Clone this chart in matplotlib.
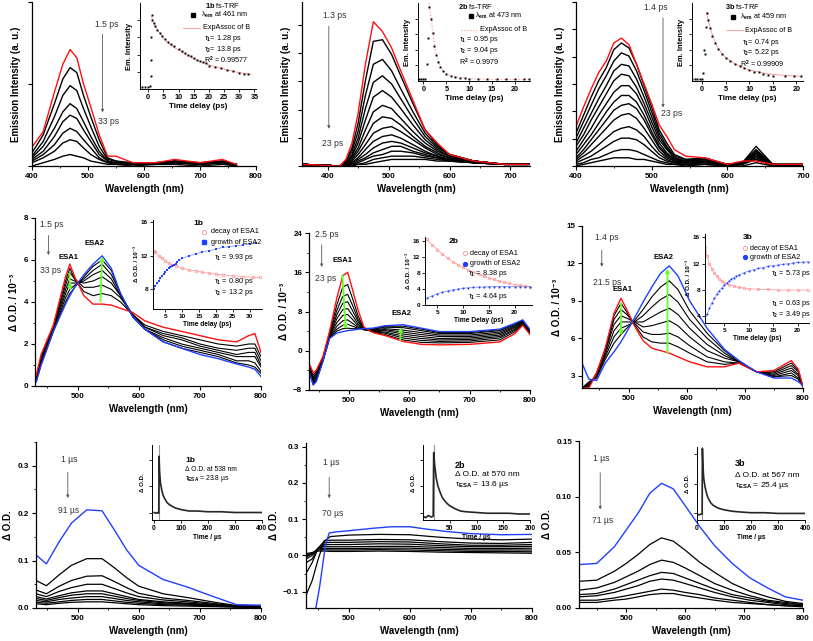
import numpy as np
import matplotlib
matplotlib.use("Agg")
import matplotlib.pyplot as plt
from matplotlib.ticker import MultipleLocator, FormatStrFormatter

plt.rcParams['font.family'] = ['Liberation Sans', 'DejaVu Sans']
plt.rcParams['font.weight'] = 'bold'
plt.rcParams['mathtext.fontset'] = 'custom'
plt.rcParams['mathtext.rm'] = 'Liberation Sans'
plt.rcParams['mathtext.it'] = 'Liberation Sans:italic'
plt.rcParams['mathtext.bf'] = 'Liberation Sans:bold'
plt.rcParams['axes.linewidth'] = 0.9

RED = '#ff1010'
BLUE = '#2040ff'
GREEN = '#66ff22'
PINK = '#ff9090'

# ---------------- top row: fs emission (a. u.) ----------------
wl_em_1b = [400, 420, 440, 455, 468, 480, 492, 505, 520, 535, 550, 580, 620, 655, 700, 740, 765]
em_1b_first = [0.115, 0.21, 0.45, 0.62, 0.71, 0.66, 0.50, 0.36, 0.19, 0.06, 0.06, 0.02, 0.02, 0.04, 0.02, 0.04, 0.01]
em_1b_rest = [
    [0.08, 0.19, 0.38, 0.53, 0.60, 0.57, 0.43, 0.30, 0.16, 0.05, 0.03, 0.02, 0.02, 0.03, 0.02, 0.03, 0.01],
    [0.06, 0.15, 0.30, 0.43, 0.49, 0.46, 0.35, 0.24, 0.12, 0.04, 0.03, 0.01, 0.02, 0.03, 0.01, 0.03, 0.01],
    [0.05, 0.12, 0.23, 0.33, 0.38, 0.35, 0.27, 0.18, 0.09, 0.03, 0.02, 0.02, 0.01, 0.03, 0.02, 0.02, 0.01],
    [0.04, 0.09, 0.18, 0.27, 0.31, 0.29, 0.22, 0.15, 0.07, 0.03, 0.02, 0.01, 0.02, 0.02, 0.01, 0.02, 0.01],
    [0.03, 0.07, 0.13, 0.20, 0.23, 0.21, 0.16, 0.11, 0.05, 0.02, 0.02, 0.01, 0.01, 0.02, 0.01, 0.02, 0.00],
    [0.02, 0.05, 0.09, 0.14, 0.16, 0.15, 0.11, 0.07, 0.04, 0.02, 0.01, 0.01, 0.01, 0.02, 0.01, 0.02, 0.00],
    [0.00, 0.02, 0.04, 0.06, 0.07, 0.06, 0.05, 0.03, 0.02, 0.01, 0.01, 0.00, 0.01, 0.01, 0.00, 0.01, 0.00],
]
trf_1b_t = [-2, -1, 0, 0.5, 0.8, 0.9, 1.0, 1.1, 1.4, 1.8, 2.3, 3, 3.8, 4.5, 5.5, 6.5, 7.5, 8.5, 10, 11, 12, 13,
            14, 15, 16, 17, 18, 19, 20, 22, 24, 26, 28, 30, 31.5, 33]
trf_1b_v = [0.02, 0.02, 0.02, 0.03, 0.15, 0.34, 0.60, 0.86, 0.80, 0.77, 0.73, 0.69, 0.65, 0.62, 0.58, 0.55, 0.52,
            0.50, 0.46, 0.44, 0.42, 0.40, 0.38, 0.36, 0.34, 0.33, 0.31, 0.30, 0.27, 0.26, 0.24, 0.22, 0.21, 0.19,
            0.18, 0.17]
fit_1b_t = [1.1, 2, 3, 5, 7, 10, 15, 20, 25, 30, 34]
fit_1b_v = [0.84, 0.75, 0.69, 0.59, 0.52, 0.45, 0.35, 0.28, 0.23, 0.19, 0.17]

wl_em_2b = [358, 420, 430, 440, 450, 462, 475, 490, 505, 520, 540, 560, 580, 600, 640, 690, 730]
em_2b_first = [0.01, 0.0, 0.04, 0.14, 0.32, 0.62, 0.88, 0.82, 0.72, 0.58, 0.40, 0.22, 0.14, 0.07, 0.03, 0.01, 0.01]
em_2b_rest = [
    [0.01, 0.0, 0.03, 0.11, 0.26, 0.52, 0.76, 0.77, 0.68, 0.55, 0.38, 0.22, 0.13, 0.07, 0.03, 0.01, 0.01],
    [0.01, 0.0, 0.03, 0.09, 0.21, 0.43, 0.62, 0.65, 0.58, 0.47, 0.33, 0.20, 0.12, 0.07, 0.03, 0.01, 0.01],
    [0.01, 0.0, 0.02, 0.07, 0.17, 0.35, 0.51, 0.55, 0.50, 0.41, 0.29, 0.18, 0.11, 0.07, 0.03, 0.01, 0.01],
    [0.01, 0.0, 0.02, 0.06, 0.14, 0.28, 0.42, 0.46, 0.42, 0.35, 0.25, 0.16, 0.10, 0.06, 0.03, 0.01, 0.01],
    [0.01, 0.0, 0.02, 0.05, 0.11, 0.22, 0.33, 0.37, 0.35, 0.29, 0.21, 0.14, 0.09, 0.06, 0.03, 0.01, 0.01],
    [0.01, 0.0, 0.01, 0.04, 0.09, 0.17, 0.26, 0.30, 0.29, 0.25, 0.18, 0.12, 0.08, 0.05, 0.03, 0.01, 0.01],
    [0.01, 0.0, 0.01, 0.03, 0.07, 0.13, 0.20, 0.23, 0.24, 0.21, 0.16, 0.11, 0.07, 0.05, 0.02, 0.01, 0.01],
    [0.01, 0.0, 0.01, 0.02, 0.05, 0.10, 0.15, 0.18, 0.19, 0.17, 0.13, 0.09, 0.06, 0.04, 0.02, 0.01, 0.01],
    [0.01, 0.0, 0.01, 0.02, 0.04, 0.07, 0.11, 0.14, 0.15, 0.14, 0.11, 0.08, 0.06, 0.04, 0.02, 0.01, 0.01],
    [0.01, 0.0, 0.01, 0.01, 0.03, 0.05, 0.08, 0.10, 0.12, 0.12, 0.09, 0.07, 0.05, 0.04, 0.02, 0.01, 0.01],
    [0.01, 0.0, 0.00, 0.01, 0.02, 0.04, 0.06, 0.07, 0.09, 0.09, 0.08, 0.06, 0.05, 0.03, 0.02, 0.01, 0.01],
    [0.01, 0.0, 0.00, 0.01, 0.01, 0.02, 0.04, 0.05, 0.06, 0.06, 0.06, 0.05, 0.04, 0.03, 0.02, 0.01, 0.01],
    [0.01, 0.0, 0.00, 0.00, 0.01, 0.01, 0.02, 0.03, 0.04, 0.04, 0.04, 0.04, 0.03, 0.03, 0.02, 0.01, 0.01],
]
trf_2b_t = [-1, -0.5, 0, 0.3, 0.7, 1.0, 1.3, 1.7, 2.0, 2.4, 2.8, 3.2, 3.7, 4.2, 5, 6, 7, 8, 9, 10, 12, 14, 16,
            18, 20, 22, 23]
trf_2b_v = [0.02, 0.02, 0.02, 0.03, 0.22, 0.55, 0.95, 0.80, 0.62, 0.45, 0.33, 0.25, 0.18, 0.13, 0.09, 0.07, 0.05,
            0.04, 0.035, 0.03, 0.03, 0.025, 0.02, 0.02, 0.02, 0.02, 0.03]
fit_2b_t = [1.2, 1.7, 2.0, 2.4, 3, 4, 5, 7, 10, 15, 23]
fit_2b_v = [1.0, 0.80, 0.63, 0.46, 0.30, 0.15, 0.09, 0.05, 0.03, 0.02, 0.02]

wl_em_3b = [400, 410, 420, 430, 440, 450, 460, 470, 480, 490, 500, 510, 520, 530, 545, 570, 600, 620, 638, 660, 700]
em_3b_first = [0.24, 0.36, 0.47, 0.57, 0.64, 0.75, 0.78, 0.74, 0.62, 0.50, 0.38, 0.25, 0.18, 0.10, 0.06, 0.05,
               0.01, 0.03, 0.03, 0.01, 0.01]
em_3b_rest = [
    [0.20, 0.31, 0.42, 0.52, 0.60, 0.71, 0.75, 0.72, 0.62, 0.49, 0.36, 0.22, 0.14, 0.07, 0.04, 0.05, 0.01, 0.02, 0.04, 0.01, 0.01],
    [0.17, 0.27, 0.37, 0.47, 0.55, 0.64, 0.69, 0.67, 0.58, 0.46, 0.33, 0.20, 0.12, 0.06, 0.04, 0.04, 0.01, 0.02, 0.05, 0.01, 0.01],
    [0.14, 0.23, 0.32, 0.41, 0.49, 0.58, 0.62, 0.61, 0.53, 0.42, 0.30, 0.18, 0.11, 0.05, 0.03, 0.04, 0.01, 0.02, 0.06, 0.01, 0.01],
    [0.12, 0.19, 0.28, 0.36, 0.44, 0.52, 0.56, 0.55, 0.48, 0.38, 0.27, 0.16, 0.10, 0.05, 0.03, 0.04, 0.01, 0.02, 0.07, 0.01, 0.01],
    [0.09, 0.16, 0.23, 0.31, 0.38, 0.45, 0.49, 0.49, 0.44, 0.35, 0.24, 0.14, 0.08, 0.04, 0.03, 0.04, 0.01, 0.02, 0.08, 0.01, 0.00],
    [0.07, 0.13, 0.19, 0.26, 0.33, 0.39, 0.43, 0.43, 0.39, 0.31, 0.21, 0.12, 0.07, 0.04, 0.02, 0.03, 0.01, 0.02, 0.09, 0.01, 0.00],
    [0.05, 0.10, 0.16, 0.22, 0.28, 0.34, 0.37, 0.38, 0.35, 0.28, 0.19, 0.11, 0.06, 0.03, 0.02, 0.03, 0.01, 0.02, 0.10, 0.01, 0.00],
    [0.04, 0.08, 0.13, 0.18, 0.23, 0.28, 0.31, 0.32, 0.29, 0.23, 0.16, 0.09, 0.05, 0.03, 0.02, 0.03, 0.01, 0.02, 0.12, 0.01, 0.00],
    [0.03, 0.06, 0.09, 0.13, 0.17, 0.21, 0.23, 0.24, 0.22, 0.18, 0.12, 0.07, 0.04, 0.02, 0.02, 0.02, 0.01, 0.01, 0.08, 0.01, 0.00],
    [0.02, 0.04, 0.06, 0.09, 0.12, 0.15, 0.17, 0.17, 0.16, 0.13, 0.09, 0.05, 0.03, 0.02, 0.01, 0.02, 0.00, 0.01, 0.06, 0.01, 0.00],
    [0.01, 0.02, 0.04, 0.05, 0.07, 0.09, 0.10, 0.10, 0.09, 0.07, 0.05, 0.03, 0.02, 0.01, 0.01, 0.01, 0.00, 0.01, 0.04, 0.00, 0.00],
    [0.00, 0.01, 0.02, 0.03, 0.04, 0.05, 0.05, 0.05, 0.04, 0.04, 0.03, 0.02, 0.01, 0.01, 0.00, 0.01, 0.00, 0.00, 0.02, 0.00, 0.00],
]
trf_3b_t = [-2, -1.5, -1, -0.5, 0, 0.3, 0.5, 0.6, 0.8, 1.0, 1.3, 1.7, 2.2, 2.8, 3.5, 4.2, 5, 6, 7, 8, 9, 10, 11,
            12, 13, 14, 15, 17.5, 19.5, 21]
trf_3b_v = [0.02, 0.02, 0.02, 0.02, 0.02, 0.10, 0.40, 0.35, 0.69, 0.87, 0.78, 0.68, 0.58, 0.49, 0.41, 0.35, 0.30,
            0.26, 0.22, 0.19, 0.17, 0.14, 0.12, 0.11, 0.09, 0.08, 0.07, 0.06, 0.06, 0.06]
fit_3b_t = [1.0, 1.5, 2, 3, 4, 5, 7, 10, 14, 18, 21]
fit_3b_v = [0.88, 0.74, 0.63, 0.47, 0.37, 0.30, 0.22, 0.14, 0.09, 0.07, 0.06]

# ---------------- middle row: fs transient absorption (x 10^-3) ----------------
wl_ta_1b = [432, 440, 460, 480, 487, 495, 510, 525, 540, 555, 570, 590, 610, 640, 670, 700, 730, 760, 780, 790, 800]
ta_1b_first = [0.5, 1.5, 2.9, 5.2, 5.8, 5.2, 4.3, 3.9, 3.9, 3.85, 3.7, 3.5, 3.1, 2.8, 2.6, 2.4, 2.2, 2.1, 2.4, 2.5, 1.6]
ta_1b_last = [0.2, 1.0, 2.6, 3.9, 4.3, 4.7, 5.3, 5.8, 6.2, 5.6, 4.4, 3.3, 2.7, 2.1, 1.8, 1.5, 1.3, 1.05, 0.9, 0.8, 0.45]
ta_1b_mid = [
    [0.4, 1.4, 2.8, 5.0, 5.6, 5.1, 4.5, 4.3, 4.4, 4.3, 4.0, 3.4, 2.9, 2.6, 2.4, 2.2, 2.0, 1.9, 2.0, 2.0, 1.4],
    [0.4, 1.3, 2.8, 4.8, 5.4, 5.1, 4.7, 4.7, 4.8, 4.6, 4.2, 3.4, 2.8, 2.5, 2.3, 2.0, 1.8, 1.7, 1.8, 1.8, 1.2],
    [0.3, 1.2, 2.7, 4.6, 5.1, 5.0, 4.9, 5.0, 5.2, 4.9, 4.3, 3.4, 2.8, 2.4, 2.2, 1.9, 1.7, 1.5, 1.6, 1.6, 1.0],
    [0.3, 1.2, 2.7, 4.4, 4.9, 4.9, 5.0, 5.3, 5.5, 5.1, 4.3, 3.3, 2.7, 2.3, 2.0, 1.8, 1.6, 1.4, 1.4, 1.4, 0.9],
    [0.3, 1.1, 2.6, 4.2, 4.6, 4.8, 5.1, 5.5, 5.8, 5.3, 4.4, 3.3, 2.7, 2.2, 1.9, 1.7, 1.5, 1.2, 1.2, 1.1, 0.7],
    [0.2, 1.0, 2.6, 4.0, 4.4, 4.7, 5.2, 5.7, 6.0, 5.5, 4.4, 3.3, 2.7, 2.1, 1.8, 1.6, 1.4, 1.1, 1.0, 0.9, 0.6],
]
kin_1b_t = [1.5, 2, 3, 4, 5, 6, 7, 8, 10, 12, 14, 16, 18, 20, 22, 25, 28, 31, 33]
kin_1b_esa1 = [12.6, 12.4, 12.0, 11.7, 11.4, 11.1, 10.9, 10.8, 10.5, 10.3, 10.2, 10.0, 9.9, 9.8, 9.7, 9.6, 9.5,
               9.4, 9.4]
kin_1b_t2 = [1.5, 2, 2.5, 3, 3.5, 4, 4.5, 5, 5.5, 6, 6.5, 7, 7.5, 8, 8.5, 9, 10, 12, 14, 16, 18, 20, 22, 24, 26,
             28, 30, 32]
kin_1b_esa2 = [8.0, 8.4, 8.7, 9.0, 9.3, 9.6, 9.8, 10.1, 10.3, 10.5, 10.6, 10.8, 10.9, 11.0, 11.2, 11.5, 11.7, 12.0,
               12.2, 12.5, 12.6, 12.8, 13.0, 13.1, 13.2, 13.3, 13.4, 13.5]

wl_ta_2b = [434, 441, 446, 457, 468, 480, 490, 498, 506, 515, 525, 540, 560, 590, 620, 650, 700, 750, 775, 788, 800]
ta_2b_first = [-2.5, -4.5, -4.0, -1.2, 3.9, 10.7, 15.3, 16.0, 12.5, 8.4, 4.8, 3.7, 3.1, 1.9, 1.3, 1.2, 1.3, 1.8,
               3.5, 5.2, 3.3]
ta_2b_last = [-4.2, -7.0, -6.3, -2.2, 2.5, 3.6, 3.9, 4.1, 4.2, 4.4, 4.5, 4.6, 5.1, 5.3, 4.6, 3.9, 3.9, 4.4, 5.6,
              6.3, 4.3]
ta_2b_mid = [
    [-2.8, -5.0, -4.3, -1.4, 3.6, 9.3, 13.0, 13.5, 10.7, 7.2, 4.5, 3.8, 3.3, 2.2, 1.7, 1.6, 1.7, 2.2, 3.9, 5.4, 3.5],
    [-3.0, -5.4, -4.6, -1.6, 3.4, 8.2, 11.1, 11.5, 9.3, 6.5, 4.4, 3.9, 3.6, 2.6, 2.1, 1.9, 2.0, 2.6, 4.2, 5.5, 3.7],
    [-3.2, -5.7, -4.9, -1.7, 3.2, 7.3, 9.7, 10.0, 8.2, 6.0, 4.3, 4.0, 3.8, 3.0, 2.5, 2.2, 2.3, 2.9, 4.4, 5.6, 3.8],
    [-3.4, -6.0, -5.2, -1.8, 3.0, 6.5, 8.4, 8.6, 7.2, 5.5, 4.3, 4.1, 4.1, 3.4, 2.9, 2.5, 2.6, 3.2, 4.7, 5.8, 3.9],
    [-3.6, -6.3, -5.5, -1.9, 2.9, 5.7, 7.2, 7.4, 6.4, 5.1, 4.3, 4.2, 4.3, 3.8, 3.3, 2.9, 2.9, 3.5, 4.9, 5.9, 4.0],
    [-3.8, -6.5, -5.8, -2.0, 2.7, 5.0, 6.1, 6.3, 5.6, 4.8, 4.3, 4.3, 4.5, 4.2, 3.7, 3.2, 3.2, 3.8, 5.1, 6.0, 4.1],
    [-4.0, -6.8, -6.0, -2.1, 2.6, 4.4, 5.2, 5.4, 5.0, 4.6, 4.4, 4.4, 4.8, 4.7, 4.1, 3.5, 3.5, 4.1, 5.3, 6.1, 4.2],
    [-4.1, -6.9, -6.2, -2.1, 2.5, 4.0, 4.5, 4.6, 4.5, 4.5, 4.5, 4.5, 5.0, 5.0, 4.4, 3.7, 3.7, 4.3, 5.5, 6.2, 4.2],
]
kin_2b_t = [3, 4, 5, 6, 7, 8, 9, 10, 11, 12, 13, 14, 15, 16, 17, 18, 19, 20, 21, 22, 23]
kin_2b_esa1 = [16.4, 15.0, 13.8, 12.7, 11.7, 10.8, 10.1, 9.4, 8.8, 8.2, 7.7, 7.2, 6.8, 6.4, 6.0, 5.7, 5.4, 5.1,
               4.9, 4.7, 4.6]
kin_2b_esa2 = [1.8, 2.3, 2.8, 3.2, 3.5, 3.8, 4.0, 4.2, 4.3, 4.4, 4.5, 4.5, 4.6, 4.6, 4.6, 4.6, 4.6, 4.6, 4.6,
               4.6, 4.6]

wl_ta_3b = [420, 432, 445, 460, 475, 487, 497, 510, 525, 540, 555, 570, 585, 605, 635, 665, 690, 720, 750, 780, 792, 800]
ta_3b_first = [2.0, 2.0, 3.2, 5.2, 8.0, 9.2, 8.3, 7.0, 5.8, 5.2, 5.0, 4.8, 4.5, 4.1, 3.7, 3.7, 4.0, 3.3, 3.4, 4.2,
               3.5, 2.1]
ta_3b_last = [4.0, 2.7, 2.6, 4.0, 4.9, 5.7, 6.5, 7.6, 8.9, 10.1, 11.2, 11.8, 11.0, 9.0, 6.8, 5.1, 4.2, 3.3, 2.8,
              2.8, 2.5, 2.2]
ta_3b_mid = [
    [2.0, 2.1, 3.2, 5.1, 7.8, 8.8, 8.1, 7.1, 6.1, 5.7, 5.6, 5.6, 5.3, 4.8, 4.1, 3.9, 4.0, 3.3, 3.3, 4.0, 3.4, 2.1],
    [2.0, 2.2, 3.2, 5.0, 7.5, 8.3, 7.9, 7.2, 6.5, 6.3, 6.3, 6.4, 6.1, 5.4, 4.5, 4.1, 4.0, 3.3, 3.2, 3.8, 3.3, 2.1],
    [2.0, 2.2, 3.1, 4.9, 7.1, 7.8, 7.6, 7.3, 6.9, 7.0, 7.2, 7.4, 7.0, 6.1, 5.0, 4.4, 4.1, 3.3, 3.1, 3.6, 3.1, 2.1],
    [2.0, 2.3, 3.0, 4.7, 6.6, 7.3, 7.3, 7.3, 7.3, 7.7, 8.1, 8.4, 7.9, 6.8, 5.5, 4.6, 4.1, 3.3, 3.0, 3.4, 3.0, 2.1],
    [2.0, 2.4, 2.9, 4.5, 6.1, 6.8, 7.0, 7.3, 7.8, 8.5, 9.1, 9.5, 8.9, 7.5, 6.0, 4.8, 4.1, 3.3, 2.9, 3.2, 2.8, 2.1],
    [2.0, 2.5, 2.8, 4.3, 5.6, 6.3, 6.8, 7.4, 8.3, 9.3, 10.1, 10.6, 9.9, 8.2, 6.4, 5.0, 4.1, 3.3, 2.9, 3.0, 2.7, 2.1],
]
kin_3b_t1 = [1.2, 1.5, 2, 2.5, 3, 3.5, 4, 4.5, 5, 6, 7, 8, 9, 10, 12, 14, 16, 18, 20, 22]
kin_3b_esa1 = [14.5, 13.2, 12.0, 11.2, 10.6, 10.1, 9.7, 9.4, 9.1, 8.8, 8.6, 8.4, 8.3, 8.2, 8.1, 8.1, 8.0, 8.0,
               8.0, 8.0]
kin_3b_t2 = [1.2, 1.6, 2, 2.5, 3, 3.5, 4, 4.5, 5, 5.5, 6, 6.5, 7, 7.5, 8, 9, 10, 11, 12, 13, 14, 15, 16, 17, 18,
             19, 20, 21, 22]
kin_3b_esa2 = [4.0, 4.4, 5.2, 6.0, 6.8, 7.4, 7.9, 8.3, 8.7, 9.0, 9.4, 9.7, 9.9, 10.1, 10.3, 10.6, 10.9, 11.1,
               11.3, 11.4, 11.6, 11.7, 11.8, 11.9, 12.0, 12.1, 12.2, 12.2, 12.3]

# ---------------- bottom row: ns transient absorption ----------------
wl_ns_1b = [432, 449, 470, 490, 515, 540, 560, 580, 600, 640, 680, 720, 760, 800]
ns_1b_first = [0.112, 0.093, 0.14, 0.179, 0.207, 0.205, 0.165, 0.123, 0.09, 0.06, 0.044, 0.025, 0.007, 0.006]
ns_1b_rest = [
    [0.058, 0.047, 0.070, 0.090, 0.104, 0.104, 0.085, 0.064, 0.046, 0.030, 0.022, 0.013, 0.005, 0.004],
    [0.038, 0.030, 0.046, 0.058, 0.067, 0.068, 0.056, 0.043, 0.031, 0.021, 0.016, 0.010, 0.004, 0.004],
    [0.030, 0.024, 0.035, 0.043, 0.050, 0.050, 0.041, 0.032, 0.024, 0.017, 0.013, 0.008, 0.004, 0.003],
    [0.024, 0.019, 0.026, 0.032, 0.036, 0.036, 0.030, 0.024, 0.018, 0.013, 0.010, 0.007, 0.003, 0.003],
    [0.020, 0.016, 0.022, 0.027, 0.030, 0.030, 0.025, 0.020, 0.016, 0.011, 0.009, 0.006, 0.003, 0.003],
    [0.016, 0.013, 0.018, 0.021, 0.024, 0.024, 0.020, 0.016, 0.013, 0.009, 0.008, 0.005, 0.003, 0.002],
    [0.012, 0.010, 0.013, 0.016, 0.018, 0.018, 0.015, 0.012, 0.010, 0.007, 0.006, 0.004, 0.002, 0.002],
    [0.009, 0.007, 0.010, 0.012, 0.013, 0.013, 0.011, 0.009, 0.007, 0.005, 0.004, 0.003, 0.002, 0.001],
]
dec_1b_t = [2, 8, 14, 19, 20, 22, 25, 30, 35, 40, 50, 60, 80, 100, 130, 160, 200, 250, 300, 350, 400]
dec_1b_v = [0.10, 0.09, 0.10, 0.09, 0.85, 0.65, 0.50, 0.40, 0.33, 0.29, 0.23, 0.20, 0.16, 0.14, 0.12, 0.12, 0.11,
            0.11, 0.10, 0.10, 0.10]

wl_ns_2b_first = [446, 452, 457, 462, 468, 480, 500, 540, 570, 600, 630, 660, 700, 750, 800]
ns_2b_first = [-0.145, -0.09, -0.03, 0.03, 0.062, 0.065, 0.068, 0.075, 0.079, 0.079, 0.072, 0.066, 0.060, 0.057,
               0.058]
wl_ns_2b = [430, 440, 450, 460, 470, 500, 550, 600, 650, 700, 750, 800]
ns_2b_rest = [
    [-0.11, -0.07, -0.01, 0.040, 0.052, 0.056, 0.058, 0.057, 0.050, 0.045, 0.043, 0.045],
    [-0.05, -0.02, 0.02, 0.040, 0.042, 0.042, 0.044, 0.043, 0.038, 0.034, 0.033, 0.036],
    [-0.02, -0.01, 0.02, 0.035, 0.036, 0.036, 0.038, 0.037, 0.032, 0.028, 0.028, 0.030],
    [-0.01, 0.00, 0.02, 0.030, 0.030, 0.030, 0.032, 0.031, 0.027, 0.024, 0.024, 0.025],
    [0.00, 0.005, 0.02, 0.025, 0.024, 0.024, 0.025, 0.025, 0.022, 0.019, 0.019, 0.020],
    [-0.005, 0.005, 0.018, 0.020, 0.019, 0.019, 0.020, 0.020, 0.017, 0.015, 0.015, 0.015],
    [0.00, 0.005, 0.015, 0.016, 0.015, 0.015, 0.016, 0.015, 0.013, 0.011, 0.011, 0.010],
    [0.005, 0.008, 0.012, 0.012, 0.011, 0.011, 0.012, 0.011, 0.009, 0.008, 0.007, 0.006],
]
dec_2b_t = [1, 5, 10, 15, 19, 20, 22, 25, 28, 32, 36, 40, 45, 50, 60, 70, 80, 100, 120, 140, 160, 180, 200]
dec_2b_v = [0.05, 0.03, 0.06, 0.04, 0.05, 0.90, 0.72, 0.55, 0.45, 0.37, 0.30, 0.26, 0.22, 0.19, 0.15, 0.12, 0.11,
            0.10, 0.09, 0.09, 0.09, 0.08, 0.08]

wl_ns_3b = [420, 450, 480, 500, 520, 540, 560, 580, 600, 625, 650, 680, 710, 740, 770, 800]
ns_3b_first = [0.039, 0.040, 0.055, 0.070, 0.085, 0.103, 0.112, 0.107, 0.092, 0.073, 0.056, 0.040, 0.027, 0.018,
               0.010, 0.007]
ns_3b_rest = [
    [0.024, 0.025, 0.033, 0.040, 0.048, 0.057, 0.063, 0.060, 0.052, 0.041, 0.032, 0.022, 0.015, 0.010, 0.006, 0.004],
    [0.016, 0.018, 0.023, 0.028, 0.033, 0.039, 0.043, 0.041, 0.036, 0.029, 0.022, 0.016, 0.011, 0.007, 0.005, 0.003],
    [0.012, 0.013, 0.017, 0.021, 0.025, 0.029, 0.032, 0.031, 0.027, 0.022, 0.017, 0.012, 0.009, 0.006, 0.004, 0.003],
    [0.010, 0.011, 0.014, 0.017, 0.020, 0.024, 0.026, 0.025, 0.022, 0.018, 0.014, 0.010, 0.007, 0.005, 0.003, 0.002],
    [0.007, 0.007, 0.009, 0.011, 0.013, 0.015, 0.017, 0.016, 0.014, 0.012, 0.009, 0.007, 0.005, 0.003, 0.002, 0.002],
    [0.005, 0.005, 0.007, 0.008, 0.010, 0.012, 0.013, 0.013, 0.011, 0.009, 0.007, 0.005, 0.004, 0.003, 0.002, 0.001],
]
dec_3b_t = [2, 8, 14, 19, 20, 22, 25, 30, 35, 40, 50, 60, 80, 100, 130, 160, 200, 250, 300, 350, 400]
dec_3b_v = [0.08, 0.07, 0.08, 0.08, 0.98, 0.75, 0.57, 0.45, 0.37, 0.31, 0.24, 0.20, 0.16, 0.14, 0.12, 0.11, 0.10,
            0.10, 0.09, 0.09, 0.09]

# ---------------- figure ----------------
W, H = 813, 641
fig = plt.figure(figsize=(W / 100, H / 100), dpi=100)


def add_ax(l, t, r, b):
    ax = fig.add_axes([l / W, 1 - b / H, (r - l) / W, (b - t) / H])
    ax.spines['top'].set_visible(False)
    ax.spines['right'].set_visible(False)
    ax.patch.set_alpha(0)
    return ax


def bold_ticks(ax):
    for lbl in ax.get_xticklabels() + ax.get_yticklabels():
        lbl.set_fontweight('bold')


def style_main(ax, xlim, ylim, ylabel, yticks, show_ylabels=True):
    ax.set_xlim(*xlim)
    ax.set_ylim(*ylim)
    ax.xaxis.set_major_locator(MultipleLocator(100))
    ax.xaxis.set_minor_locator(MultipleLocator(50))
    ax.set_yticks(yticks)
    if not show_ylabels:
        ax.set_yticklabels([])
    ax.tick_params(which='major', length=3, width=0.8, labelsize=5.8, pad=2)
    ax.tick_params(which='minor', length=1.5, width=0.6)
    ax.set_xlabel('Wavelength (nm)', fontsize=7, fontweight='bold', labelpad=3)
    ax.set_ylabel(ylabel, fontsize=7, fontweight='bold', labelpad=3)
    bold_ticks(ax)


def style_inset(ax, xlim, ylim, xticks, yticks, xlabel, ylabel, show_ylabels=True,
                tsize=4.8, lsize=5.2):
    ax.set_xlim(*xlim)
    ax.set_ylim(*ylim)
    ax.set_xticks(xticks)
    ax.set_yticks(yticks)
    if not show_ylabels:
        ax.set_yticklabels([])
    for s in ('left', 'bottom'):
        ax.spines[s].set_linewidth(0.7)
    ax.tick_params(length=2, width=0.6, labelsize=tsize, pad=1.5)
    ax.set_xlabel(xlabel, fontsize=lsize, fontweight='bold', labelpad=1.5)
    ax.set_ylabel(ylabel, fontsize=lsize - 0.4, fontweight='bold', labelpad=1.5)
    bold_ticks(ax)


def time_arrow(ax, x, y0, y1, top, bottom, tx, ty_top, tx2, ty_bot, size=6.2):
    ax.annotate('', xy=(x, y1), xytext=(x, y0),
                arrowprops=dict(arrowstyle='-|>', color='0.35', lw=0.6, mutation_scale=4))
    ax.text(tx, ty_top, top, fontsize=size, fontweight='normal', color='0.2', ha='center', va='center')
    ax.text(tx2, ty_bot, bottom, fontsize=size, fontweight='normal', color='0.2', ha='center', va='center')


def esa_arrow(ax, x0, y0, x1, y1):
    ax.annotate('', xy=(x1, y1), xytext=(x0, y0),
                arrowprops=dict(arrowstyle='-|>', color=GREEN, lw=1.3, mutation_scale=5))


def note(ax, x, y, s, size=5.2, weight='normal'):
    ax.text(x, y, s, transform=ax.transAxes, fontsize=size, fontweight=weight, ha='left', va='center')


# ---- panel a: 1b emission ----
ax = add_ax(32, 2, 256, 166)
for row in em_1b_rest:
    ax.plot(wl_em_1b, row, color='black', lw=1.0)
ax.plot(wl_em_1b, em_1b_first, color=RED, lw=1.0)
style_main(ax, (400, 800), (0, 1.0), 'Emission Intensity (a. u.)', [0, 0.5, 1.0], False)
time_arrow(ax, 526, 0.82, 0.31, '1.5 ps', '33 ps', 533, 0.86, 536, 0.27)

ins = add_ax(140, 3, 256, 89)
ins.plot(fit_1b_t, fit_1b_v, color=PINK, lw=0.6)
ins.plot(trf_1b_t, trf_1b_v, 's', color='black', ms=1.4, mew=0)
style_inset(ins, (-2.7, 35.5), (0, 1.0), [0, 5, 10, 15, 20, 25, 30, 35], [0.2, 0.4, 0.6, 0.8],
            'Time delay (ps)', 'Em. Intensity', False, tsize=5.2, lsize=5.8)
note(ins, 0.56, 0.97, r'$\mathbf{1b}$ fs-TRF', 5.3)
ins.plot([0.46], [0.86], 's', color='black', ms=2.4, transform=ins.transAxes, clip_on=False)
note(ins, 0.53, 0.86, 'λ$_{\\rm em}$ at 461 nm')
ins.plot([0.37, 0.52], [0.71, 0.71], color=PINK, lw=0.6, transform=ins.transAxes, clip_on=False)
note(ins, 0.54, 0.71, 'ExpAssoc of B')
note(ins, 0.55, 0.585, 'τ$_1$= 1.28 ps')
note(ins, 0.55, 0.46, 'τ$_2$= 13.8 ps')
note(ins, 0.55, 0.33, 'R$^2$ = 0.99577')

# ---- panel b: 2b emission ----
ax = add_ax(302, 2, 530, 166)
for row in em_2b_rest:
    ax.plot(wl_em_2b, row, color='black', lw=1.0)
ax.plot(wl_em_2b, em_2b_first, color=RED, lw=1.0)
style_main(ax, (358, 732), (0, 1.0), 'Emission Intensity (a. u.)',
           [0, 0.172, 0.344, 0.516, 0.688, 0.86], False)
time_arrow(ax, 402, 0.87, 0.21, '1.3 ps', '23 ps', 411, 0.92, 408, 0.14)

ins = add_ax(418, 3, 530, 81)
ins.plot(fit_2b_t, fit_2b_v, color=PINK, lw=0.8, ls=':')
ins.plot(trf_2b_t, trf_2b_v, 's', color='black', ms=1.4, mew=0)
style_inset(ins, (-1.2, 23.3), (0, 1.0), [0, 5, 10, 15, 20], [0.2, 0.4, 0.6, 0.8],
            'Time delay (ps)', 'Em. Intensity', False, tsize=5.2, lsize=5.8)
note(ins, 0.36, 0.96, r'$\mathbf{2b}$ fs-TRF', 5.3)
ins.plot([0.47], [0.83], 's', color='black', ms=2.4, transform=ins.transAxes, clip_on=False)
note(ins, 0.51, 0.83, 'λ$_{\\rm em}$ at 473 nm')
ins.plot([0.38, 0.53], [0.66, 0.66], color=PINK, lw=0.8, ls=':', transform=ins.transAxes, clip_on=False)
note(ins, 0.55, 0.66, 'ExpAssoc of B')
note(ins, 0.37, 0.53, 'τ$_1$ = 0.95 ps')
note(ins, 0.37, 0.39, 'τ$_2$ = 9.04 ps')
note(ins, 0.37, 0.24, 'R$^2$ = 0.9979')

# ---- panel c: 3b emission ----
ax = add_ax(576, 2, 803, 166)
for row in em_3b_rest:
    ax.plot(wl_em_3b, row, color='black', lw=1.0)
ax.plot(wl_em_3b, em_3b_first, color=RED, lw=1.0)
style_main(ax, (400, 700), (0, 1.0), 'Emission Intensity (a. u.)',
           [0, 0.167, 0.333, 0.5, 0.667, 0.833, 1.0], False)
time_arrow(ax, 515, 0.92, 0.34, '1.4 ps', '23 ps', 506, 0.965, 526, 0.32)

ins = add_ax(692, 3, 803, 81)
ins.plot(fit_3b_t, fit_3b_v, color=PINK, lw=0.6)
ins.plot(trf_3b_t, trf_3b_v, 's', color='black', ms=1.4, mew=0)
style_inset(ins, (-2.1, 21.4), (0, 1.0), [0, 5, 10, 15, 20], [0.2, 0.4, 0.6, 0.8],
            'Time delay (ps)', 'Em. Intensity', False, tsize=5.2, lsize=5.8)
note(ins, 0.3, 0.96, r'$\mathbf{3b}$ fs-TRF', 5.3)
ins.plot([0.37], [0.82], 's', color='black', ms=2.4, transform=ins.transAxes, clip_on=False)
note(ins, 0.43, 0.82, 'λ$_{\\rm em}$ at 459 nm')
ins.plot([0.31, 0.46], [0.65, 0.65], color=PINK, lw=0.6, transform=ins.transAxes, clip_on=False)
note(ins, 0.48, 0.65, 'ExpAssoc of B')
note(ins, 0.45, 0.5, 'τ$_1$= 0.74 ps')
note(ins, 0.45, 0.36, 'τ$_2$= 5.22 ps')
note(ins, 0.43, 0.21, 'R$^2$ = 0.99909')

# ---- panel d: 1b fs-TA ----
ax = add_ax(35, 218, 261, 386)
for row in ta_1b_mid:
    ax.plot(wl_ta_1b, row, color='black', lw=0.8)
ax.plot(wl_ta_1b, ta_1b_first, color=RED, lw=1.0)
ax.plot(wl_ta_1b, ta_1b_last, color=BLUE, lw=1.0)
style_main(ax, (430, 800), (0, 8), 'Δ O.D. / 10⁻³', [0, 2, 4, 6, 8])
ax.yaxis.set_minor_locator(MultipleLocator(1))
esa_arrow(ax, 486, 5.5, 488, 4.4)
esa_arrow(ax, 537, 3.9, 540, 6.3)
ax.text(485, 6.1, 'ESA1', fontsize=5.5, fontweight='bold', ha='center', va='center')
ax.text(528, 6.8, 'ESA2', fontsize=5.5, fontweight='bold', ha='center', va='center')
time_arrow(ax, 452, 7.3, 6.1, '1.5 ps', '33 ps', 458, 7.7, 456, 5.5)

ins = add_ax(153, 220, 262, 309)
ins.plot(kin_1b_t, kin_1b_esa1, color=PINK, lw=0.5)
ins.plot(kin_1b_t2, kin_1b_esa2, color=BLUE, lw=0.5, alpha=0.6)
ins.plot(kin_1b_t, kin_1b_esa1, 'o', mfc='none', mec=PINK, ms=2.0, mew=0.5)
ins.plot(kin_1b_t2, kin_1b_esa2, 's', color=BLUE, ms=1.6, mew=0)
style_inset(ins, (1.3, 33.7), (5.6, 16.3), [5, 10, 15, 20, 25, 30], [8, 12, 16],
            'Time delay (ps)', 'Δ O.D. / 10⁻³', tsize=4.6, lsize=4.8)
note(ins, 0.37, 0.96, '1b', 6, 'bold')
ins.plot([0.47], [0.87], 'o', mfc='none', mec=PINK, ms=3.0, mew=0.6, transform=ins.transAxes, clip_on=False)
note(ins, 0.53, 0.87, 'decay of ESA1')
ins.plot([0.47], [0.75], 's', color=BLUE, ms=2.8, transform=ins.transAxes, clip_on=False)
note(ins, 0.53, 0.75, 'growth of ESA2')
note(ins, 0.56, 0.58, 'τ$_1$ = 9.93 ps')
note(ins, 0.56, 0.31, 'τ$_1$ = 0.80 ps')
note(ins, 0.56, 0.18, 'τ$_2$ = 13.2 ps')

# ---- panel e: 2b fs-TA ----
ax = add_ax(309, 233, 530, 390)
for row in ta_2b_mid:
    ax.plot(wl_ta_2b, row, color='black', lw=0.8)
ax.plot(wl_ta_2b, ta_2b_first, color=RED, lw=1.0)
ax.plot(wl_ta_2b, ta_2b_last, color=BLUE, lw=1.0)
style_main(ax, (434, 800), (-8, 24), 'Δ O.D. / 10⁻³', [-8, 0, 8, 16, 24])
ax.yaxis.set_minor_locator(MultipleLocator(4))
esa_arrow(ax, 489, 16, 495, 3.8)
esa_arrow(ax, 585, 1.6, 586, 5.3)
ax.text(490, 18.4, 'ESA1', fontsize=5.5, fontweight='bold', ha='center', va='center')
ax.text(588, 7.6, 'ESA2', fontsize=5.5, fontweight='bold', ha='center', va='center')
time_arrow(ax, 455, 22.2, 16.5, '2.5 ps', '23 ps', 464, 23.7, 462, 14.8)

ins = add_ax(425, 237, 532, 305)
ins.plot(kin_2b_t, kin_2b_esa1, color=PINK, lw=0.5)
ins.plot(kin_2b_t, kin_2b_esa2, color=BLUE, lw=0.5, alpha=0.6)
ins.plot(kin_2b_t, kin_2b_esa1, 'o', mfc='none', mec=PINK, ms=1.8, mew=0.5)
ins.plot(kin_2b_t, kin_2b_esa2, 'o', color=BLUE, ms=1.5, mew=0)
style_inset(ins, (2.6, 23.4), (0, 17), [5, 10, 15, 20], [0, 4, 8, 12, 16],
            'Time Delay (ps)', 'Δ O.D. / 10⁻³', tsize=4.6, lsize=4.8)
note(ins, 0.22, 0.93, '2b', 6, 'bold')
ins.plot([0.37], [0.76], 'o', mfc='none', mec=PINK, ms=3.0, mew=0.6, transform=ins.transAxes, clip_on=False)
note(ins, 0.42, 0.76, 'decay of ESA1')
ins.plot([0.37], [0.61], 'o', color=BLUE, ms=2.8, transform=ins.transAxes, clip_on=False)
note(ins, 0.42, 0.61, 'growth of ESA2')
note(ins, 0.40, 0.47, 'τ$_1$ = 8.38 ps')
note(ins, 0.40, 0.12, 'τ$_1$ = 4.64 ps')

# ---- panel f: 3b fs-TA ----
ax = add_ax(582, 226, 803, 388)
for row in ta_3b_mid:
    ax.plot(wl_ta_3b, row, color='black', lw=0.8)
ax.plot(wl_ta_3b, ta_3b_first, color=RED, lw=1.0)
ax.plot(wl_ta_3b, ta_3b_last, color=BLUE, lw=1.0)
style_main(ax, (420, 800), (2, 15), 'Δ O.D. / 10⁻³', [3, 6, 9, 12, 15])
esa_arrow(ax, 487, 9.0, 487, 6.0)
esa_arrow(ax, 567, 4.6, 567, 11.8)
ax.text(489, 9.9, 'ESA1', fontsize=5.5, fontweight='bold', ha='center', va='center')
ax.text(560, 12.5, 'ESA2', fontsize=5.5, fontweight='bold', ha='center', va='center')
time_arrow(ax, 454, 13.3, 11.5, '1.4 ps', '21.5 ps', 462, 14.1, 464, 10.5)

ins = add_ax(705, 234, 809, 323)
ins.plot(kin_3b_t1, kin_3b_esa1, color=PINK, lw=0.5)
ins.plot(kin_3b_t2, kin_3b_esa2, color=BLUE, lw=0.5, alpha=0.6)
ins.plot(kin_3b_t1, kin_3b_esa1, 'o', mfc='none', mec=PINK, ms=1.8, mew=0.5)
ins.plot(kin_3b_t2, kin_3b_esa2, 'o', color=BLUE, ms=1.5, mew=0)
style_inset(ins, (1.1, 22.3), (3, 16.5), [5, 10, 15, 20], [4, 8, 12, 16],
            'Time delay (ps)', 'Δ O.D. / 10⁻³', tsize=4.6, lsize=4.8)
note(ins, 0.36, 0.96, '3b', 6, 'bold')
ins.plot([0.38], [0.84], 'o', mfc='none', mec=PINK, ms=3.0, mew=0.6, transform=ins.transAxes, clip_on=False)
note(ins, 0.43, 0.84, 'decay of ESA1')
ins.plot([0.38], [0.74], 'o', color=BLUE, ms=2.8, transform=ins.transAxes, clip_on=False)
note(ins, 0.43, 0.74, 'growth of ESA2')
note(ins, 0.63, 0.56, 'τ$_1$ = 5.73 ps')
note(ins, 0.63, 0.22, 'τ$_1$ = 0.63 ps')
note(ins, 0.63, 0.10, 'τ$_2$ = 3.49 ps')

# ---- panel g: 1b ns-TA ----
ax = add_ax(36, 442, 261, 608)
for row in ns_1b_rest:
    ax.plot(wl_ns_1b, row, color='black', lw=0.9)
ax.plot(wl_ns_1b, ns_1b_first, color=BLUE, lw=1.0)
style_main(ax, (432, 800), (0, 0.35), 'Δ O.D.', [0.0, 0.1, 0.2, 0.3])
ax.yaxis.set_minor_locator(MultipleLocator(0.05))
time_arrow(ax, 484, 0.292, 0.226, '1 µs', '91 µs', 486, 0.314, 486, 0.205)

ins = add_ax(152, 445, 262, 520)
ins.axvline(20, color='0.6', lw=0.8)
ins.plot(dec_1b_t, dec_1b_v, color='0.15', lw=1.2)
style_inset(ins, (-6, 400), (0, 1.0), [0, 100, 200, 300, 400], [0.1, 0.45, 0.8],
            'Time / µs', 'Δ O.D.', False, tsize=4.8, lsize=4.8)
note(ins, 0.30, 0.79, '1b', 6, 'bold')
note(ins, 0.30, 0.67, 'Δ O.D. at 538 nm', 4.9)
note(ins, 0.30, 0.55, 'τ$_{\\rm ESA}$ = 23.8 µs', 4.9)

# ---- panel h: 2b ns-TA ----
ax = add_ax(306, 443, 532, 608)
for row in ns_2b_rest:
    ax.plot(wl_ns_2b, row, color='black', lw=0.9)
ax.plot(wl_ns_2b_first, ns_2b_first, color=BLUE, lw=1.0)
style_main(ax, (430, 800), (-0.145, 0.31), 'Δ O.D.', [-0.1, 0.0, 0.1, 0.2, 0.3])
ax.yaxis.set_minor_locator(MultipleLocator(0.05))
time_arrow(ax, 468, 0.223, 0.15, '1 µs', '70 µs', 472, 0.256, 474, 0.116)

ins = add_ax(423, 445, 530, 520)
ins.axvline(20, color='0.6', lw=0.8)
ins.plot(dec_2b_t, dec_2b_v, color='0.15', lw=1.2)
style_inset(ins, (0, 200), (0, 1.0), [50, 100, 150, 200], [0.1, 0.45, 0.8],
            'Time / µs', 'Δ O.D.', False, tsize=4.8, lsize=4.8)
note(ins, 0.30, 0.73, '2b', 6.5, 'bold')
note(ins, 0.30, 0.60, 'Δ O.D. at 570 nm', 6)
note(ins, 0.30, 0.47, 'τ$_{\\rm ESA}$ = 13.6 µs', 6)

# ---- panel i: 3b ns-TA ----
ax = add_ax(579, 441, 803, 608)
for row in ns_3b_rest:
    ax.plot(wl_ns_3b, row, color='black', lw=0.9)
ax.plot(wl_ns_3b, ns_3b_first, color=BLUE, lw=1.0)
style_main(ax, (420, 800), (0, 0.15), 'Δ O.D.', [0.0, 0.05, 0.10, 0.15])
ax.yaxis.set_major_formatter(FormatStrFormatter('%.2f'))
bold_ticks(ax)
time_arrow(ax, 456, 0.124, 0.086, '1 µs', '71 µs', 458, 0.134, 460, 0.079)

ins = add_ax(697, 447, 805, 520)
ins.axvline(20, color='0.6', lw=0.8)
ins.plot(dec_3b_t, dec_3b_v, color='0.15', lw=1.2)
style_inset(ins, (0, 400), (0, 1.0), [0, 100, 200, 300, 400], [0.1, 0.5, 0.9],
            'Time / µs', 'Δ O.D.', False, tsize=4.8, lsize=4.8)
note(ins, 0.35, 0.77, '3b', 6.5, 'bold')
note(ins, 0.35, 0.61, 'Δ O.D. at 567 nm', 6)
note(ins, 0.35, 0.47, 'τ$_{\\rm ESA}$ = 25.4 µs', 6)

fig.savefig('out.png', dpi=100)
